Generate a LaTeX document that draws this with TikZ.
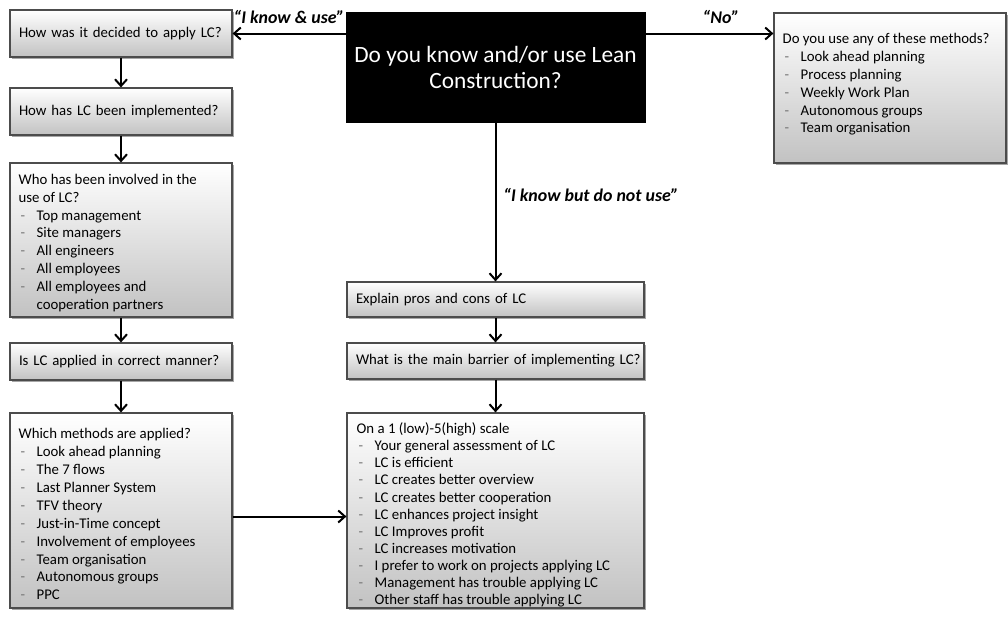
\documentclass[tikz,border=0pt]{standalone}
\usepackage{fontspec}
\setmainfont{Carlito}
\usetikzlibrary{arrows.meta,shadows}
\newcommand\itm[1]{\hspace*{1.5pt}\makebox[12pt][l]{\textcolor{black!55}{-}}#1}
\begin{document}
\begin{tikzpicture}[x=0.75pt,y=-0.75pt,
  box/.style={draw=black!70, line width=0.9pt, top color=white, bottom color=black!24,
    drop shadow={shadow xshift=1.2pt, shadow yshift=-1.2pt, opacity=0.35, fill=black},
    inner sep=0pt, anchor=center},
  onebox/.style={box, inner xsep=6.75pt, align=left, font=\fontsize{11.1}{13.3}\selectfont},
  txt/.style={inner sep=0pt, anchor=north west, align=left, font=\fontsize{11.1}{13.4}\selectfont},
  qbox/.style={fill=black, draw=black, text=white, align=center, inner sep=0pt,
    font=\fontsize{17.5}{19.5}\selectfont},
  arr/.style={line width=1.5pt, -{Straight Barb[length=5pt,width=9pt]}},
  lab/.style={font=\fontsize{13.4}{15}\selectfont\bfseries\itshape, inner sep=1pt}
]
\useasboundingbox (0,0) rectangle (1008,619);

% left column
\node[onebox, minimum width=166.5pt, minimum height=35.25pt, text width=153pt] (b1) at (121,33.5) {\mbox{How was it decided to apply LC?}};
\node[onebox, minimum width=166.5pt, minimum height=35.25pt, text width=153pt] (b2) at (121,111.5) {\mbox{How has LC been implemented?}};
\node[box, minimum width=166.5pt, minimum height=115.5pt] (b3) at (121,240) {};
\node[txt] (t3) at ([xshift=6.75pt,yshift=-8.5pt]b3.north west) {Who has been involved in the\\ use of LC?\\
\itm{Top management}\\ \itm{Site managers}\\ \itm{All engineers}\\ \itm{All employees}\\
\itm{All employees and}\\ \hspace*{13.5pt}cooperation partners};
\node[onebox, minimum width=166.5pt, minimum height=27.75pt, text width=153pt] (b4) at (121,361.5) {\mbox{Is LC applied in correct manner?}};
\node[box, minimum width=166.5pt, minimum height=146.25pt] (b5) at (121,510.5) {};
\node[txt] (t5) at ([xshift=6.75pt,yshift=-12pt]b5.north west) {Which methods are applied?\\
\itm{Look ahead planning}\\ \itm{The 7 flows}\\ \itm{Last Planner System}\\ \itm{TFV theory}\\
\itm{Just-in-Time concept}\\ \itm{Involvement of employees}\\ \itm{Team organisation}\\
\itm{Autonomous groups}\\ \itm{PPC}};

% question
\node[qbox, minimum width=224.25pt, minimum height=82.5pt] (q) at (495.5,67) {\raisebox{-2pt}{Do you know and/or use Lean}\\ \raisebox{-2pt}{Construction?}};

% right box
\node[box, minimum width=174pt, minimum height=112.5pt] (r) at (890,88) {};
\node[txt] (tr) at ([xshift=6.75pt,yshift=-15.5pt]r.north west) {Do you use any of these methods?\\
\itm{Look ahead planning}\\ \itm{Process planning}\\ \itm{Weekly Work Plan}\\ \itm{Autonomous groups}\\ \itm{Team organisation}};

% center column
\node[onebox, minimum width=222.75pt, minimum height=26.25pt, text width=209.25pt] (c1) at (495.5,299.5) {\mbox{Explain pros and cons of LC}};
\node[onebox, minimum width=222.75pt, minimum height=27pt, text width=209.25pt] (c2) at (495.5,361) {\mbox{What is the main barrier of implementing LC?}};
\node[box, minimum width=222.75pt, minimum height=146.25pt] (c3) at (495.5,510.5) {};
\node[txt, font=\fontsize{11.1}{12.85}\selectfont] (t6) at ([xshift=7.5pt,yshift=-7.5pt]c3.north west) {On a 1 (low)-5(high) scale\\
\itm{Your general assessment of LC}\\ \itm{LC is efficient}\\ \itm{LC creates better overview}\\
\itm{LC creates better cooperation}\\ \itm{LC enhances project insight}\\ \itm{LC Improves profit}\\
\itm{LC increases motivation}\\ \itm{I prefer to work on projects applying LC}\\
\itm{Management has trouble applying LC}\\ \itm{Other staff has trouble applying LC}};

% connectors
\draw[arr] (q.west |- b1.east) -- (b1.east);
\draw[arr] (q.east |- b1.east) -- (r.west |- b1.east);
\draw[arr] (q.south) -- (c1.north);
\draw[arr] (b1.south) -- (b2.north);
\draw[arr] (b2.south) -- (b3.north);
\draw[arr] (b3.south) -- (b4.north);
\draw[arr] (b4.south) -- (b5.north);
\draw[arr] ([yshift=-4.5pt]b5.east) -- ([yshift=-4.5pt]c3.west);
\draw[arr] (c1.south) -- (c2.north);
\draw[arr] (c2.south) -- (c3.north);

% labels
\node[lab] (l1) at (289,17) {“I know \& use”};
\node[lab] (l2) at (721,17) {“No”};
\node[lab] (l3) at (591,195) {“I know but do not use”};
\end{tikzpicture}
\end{document}
